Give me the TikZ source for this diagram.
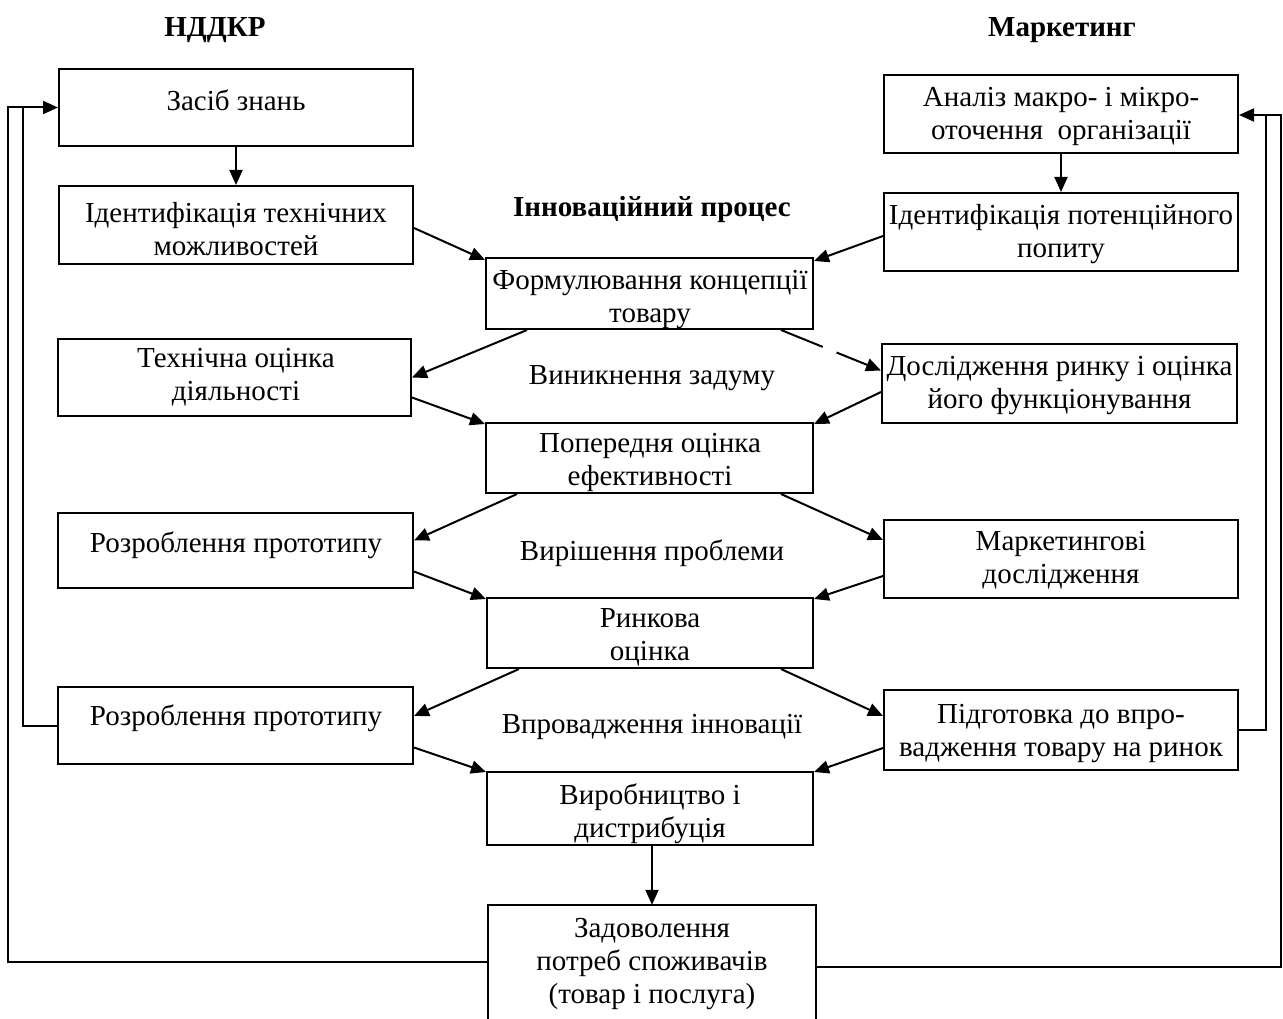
\documentclass[tikz,border=0pt]{standalone}
\usepackage{fontspec}
\setmainfont{Liberation Serif}
\usetikzlibrary{arrows.meta}
\begin{document}
\begin{tikzpicture}[x=1pt,y=-1pt,
  every node/.style={font=\fontsize{29}{33}\selectfont, align=center, inner sep=0pt},
  bx/.style={draw, line width=2pt},
  ttl/.style={font=\fontsize{29}{33}\selectfont\bfseries},
  arr/.style={line width=2pt, -{Triangle[length=15pt,width=13pt]}},
  ln/.style={line width=2pt}]
\useasboundingbox (0,0) rectangle (1283,1019);

% titles
\node[ttl] (t1) at (215,30) {НДДКР};
\node[ttl] (t2) at (1062,30) {Маркетинг};
\node[ttl] (t3) at (652,210) {Інноваційний процес};

% left column boxes
\node[bx, minimum width=354pt, minimum height=77pt] (b1) at (236,107.5) {};
\node[bx, minimum width=354pt, minimum height=78pt] (b2) at (236,225) {};
\node[bx, minimum width=353pt, minimum height=77pt] (b3) at (234.5,377.5) {};
\node[bx, minimum width=355pt, minimum height=75pt] (b4) at (235.5,550.5) {};
\node[bx, minimum width=355pt, minimum height=77pt] (b5) at (235.5,725.5) {};
\node (b1t) at (236,100) {Засіб знань};
\node (b2t) at (236,229.5) {Ідентифікація технічних\\можливостей};
\node (b3t) at (236,377.5) {Технічна оцінка\\діяльності};
\node (b4t) at (236,545) {Розроблення прототипу};
\node (b5t) at (236,718) {Розроблення прототипу};

% middle column boxes
\node[bx, minimum width=327pt, minimum height=71pt] (m1) at (649.5,293.5) {};
\node[bx, minimum width=327pt, minimum height=70pt] (m2) at (649.5,458) {};
\node[bx, minimum width=326pt, minimum height=70pt] (m3) at (650,633) {};
\node[bx, minimum width=326pt, minimum height=73pt] (m4) at (650,808.5) {};
\node[minimum width=328pt, minimum height=114pt] (z) at (652,962) {};
\draw[ln] (z.south west) -- (z.north west) -- (z.north east) -- (z.south east);
\node (m1t) at (650,299.5) {Формулювання концепції\\товару};
\node (m2t) at (650,462.5) {Попередня оцінка\\ефективності};
\node (m3t) at (650,637.5) {Ринкова\\оцінка};
\node (m4t) at (650,813.5) {Виробництво і\\дистрибуція};
\node (zt) at (652,964.5) {Задоволення\\потреб споживачів\\(товар і послуга)};

% stage labels
\node (s1) at (652,378) {Виникнення задуму};
\node (s2) at (652,553) {Вирішення проблеми};
\node (s3) at (652,727) {Впровадження інновації};

% right column boxes
\node[bx, minimum width=354pt, minimum height=78pt] (r1) at (1061,114) {};
\node[bx, minimum width=354pt, minimum height=78pt] (r2) at (1061,232) {};
\node[bx, minimum width=355pt, minimum height=79pt] (r3) at (1059.5,383.5) {};
\node[bx, minimum width=354pt, minimum height=78pt] (r4) at (1061,559) {};
\node[bx, minimum width=354pt, minimum height=80pt] (r5) at (1061,730) {};
\node (r1t) at (1061,116.5) {Аналіз макро- і мікро-\\оточення\ \ організації};
\node (r2t) at (1061,234.5) {Ідентифікація потенційного\\попиту};
\node (r3t) at (1059.5,385.5) {Дослідження ринку і оцінка\\його функціонування};
\node (r4t) at (1061,560.5) {Маркетингові\\дослідження};
\node (r5t) at (1061,733.5) {Підготовка до впро-\\вадження товару на ринок};

% vertical arrows
\draw[arr] (b1.south) -- (b2.north);
\draw[arr] (r1.south) -- (r2.north);
\draw[arr] ([xshift=2pt]m4.south) -- ([xshift=2pt]m4.south |- z.north);

% diagonal arrows
\draw[arr] ([yshift=-3pt]b2.east) -- ([yshift=-3pt]m1.north west);
\draw[arr] ([yshift=-4pt]r2.west) -- ([yshift=-4pt]m1.north east);
\draw[arr] ([xshift=42pt]m1.south west) -- (b3.east);
\draw[arr, dash pattern=on 45pt off 15pt on 200pt] ([xshift=-33pt]m1.south east) -- ([yshift=13pt]r3.west);
\draw[arr] ([yshift=-20pt]b3.east) -- ([yshift=-2pt]m2.north west);
\draw[arr] ([yshift=-8.5pt]r3.west) -- ([yshift=-2pt]m2.north east);
\draw[arr] ([xshift=32pt]m2.south west) -- ([yshift=10pt]b4.east);
\draw[arr] ([xshift=-33pt]m2.south east) -- ([yshift=19pt]r4.west);
\draw[arr] ([yshift=-21pt]b4.east) -- ([yshift=-2pt]m3.north west);
\draw[arr] ([yshift=-17pt]r4.west) -- ([yshift=-2pt]m3.north east);
\draw[arr] ([xshift=33pt]m3.south west) -- ([yshift=9.5pt]b5.east);
\draw[arr] ([xshift=-33pt]m3.south east) -- ([yshift=14pt]r5.west);
\draw[arr] ([yshift=-22pt]b5.east) -- ([yshift=-1pt]m4.north west);
\draw[arr] ([yshift=-18pt]r5.west) -- ([yshift=-1pt]m4.north east);

% feedback loops
\coordinate (L1) at (8,107.5);
\coordinate (L2) at (23,107.5);
\coordinate (R1) at (1281,115);
\coordinate (R2) at (1266,115);
\draw[arr] (z.west) -| (L1) -- (b1.west);
\draw[ln] (b5.west) -| (L2);
\draw[arr] ([yshift=-5pt]z.east) -| (R1) -- ([yshift=-1pt]r1.east);
\draw[ln] (r5.east) -| (R2);
\end{tikzpicture}
\end{document}
